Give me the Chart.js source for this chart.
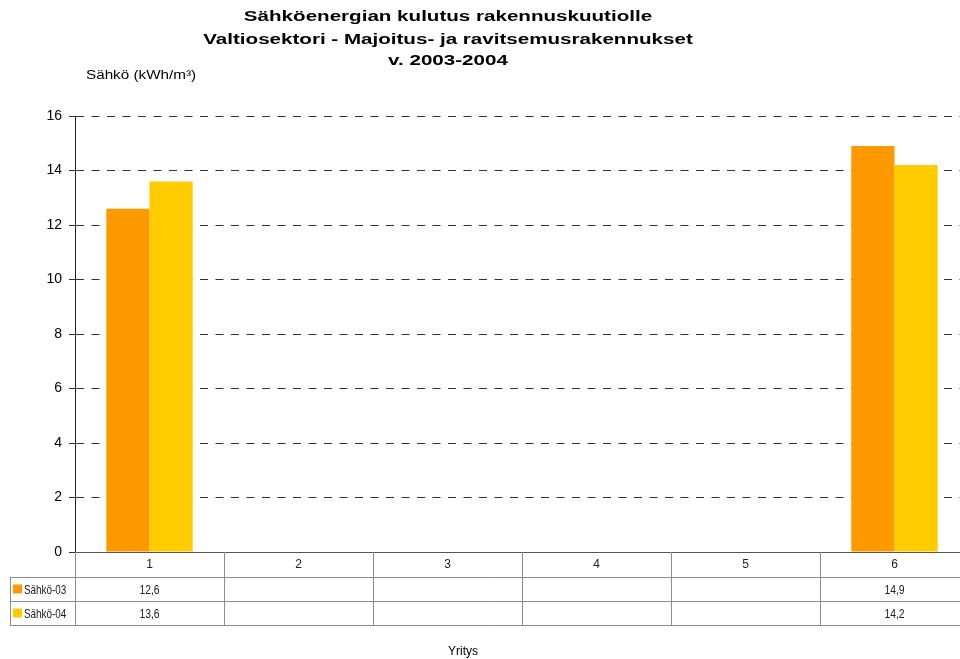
<!DOCTYPE html>
<html>
<head>
<meta charset="utf-8">
<script src="https://cdn.jsdelivr.net/npm/chart.js@4"></script>
<style>
  html, body { margin: 0; padding: 0; background: #fff; overflow: hidden; }
  #wrap { width: 975px; height: 659px; }
</style>
</head>
<body>
<div id="wrap"><canvas id="energyChart" width="975" height="659"></canvas></div>
<script>
// Chart data
const companies = ['1', '2', '3', '4', '5', '6'];
const electricity03 = [12.6, null, null, null, null, 14.9];
const electricity04 = [13.6, null, null, null, null, 14.2];
const seriesNames = ['Sähkö-03', 'Sähkö-04'];
const seriesColors = ['#FF9900', '#FFCC00'];
const titleLines = [
    'Sähköenergian kulutus rakennuskuutiolle',
    'Valtiosektori - Majoitus- ja ravitsemusrakennukset',
    'v. 2003-2004'
];
const yAxisTitle = 'Sähkö (kWh/m³)';
const xAxisTitle = 'Yritys';

const mainFont = '"Liberation Sans", Arial, sans-serif';

// draw text squeezed / stretched horizontally
function drawScaledText(ctx, text, x, y, sx) {
    ctx.save();
    ctx.translate(x, y);
    ctx.scale(sx, 1);
    ctx.fillText(text, 0, 0);
    ctx.restore();
}

/**
 * Draws titles and the data table under the plot
 */
const tablePlugin = {
    id: 'dataTable',
    afterDraw(chart) {
        const ctx = chart.ctx;
        const area = chart.chartArea;
        const xScale = chart.scales.x;
        const colW = (area.right - area.left) / companies.length;
        const rowTop = area.bottom;
        const rowH = [25, 24, 24];
        const r1 = rowTop + rowH[0];
        const r2 = r1 + rowH[1];
        const r3 = r2 + rowH[2];
        const legendLeft = 10;

        ctx.save();

        // main title
        ctx.fillStyle = '#000';
        ctx.textAlign = 'center';
        ctx.textBaseline = 'middle';
        ctx.font = 'bold 14px ' + mainFont;
        const titleY = [17, 40, 61];
        titleLines.forEach((line, i) => {
            drawScaledText(ctx, line, 448, titleY[i], 1.47);
        });

        // axis titles
        ctx.font = '12px ' + mainFont;
        ctx.textAlign = 'left';
        drawScaledText(ctx, yAxisTitle, 86, 76, 1.27);
        ctx.textAlign = 'center';
        ctx.fillText(xAxisTitle, 463, 652);

        // table grid
        ctx.strokeStyle = '#8c8c8c';
        ctx.lineWidth = 1;
        ctx.beginPath();
        [r1, r2, r3].forEach(y => {
            ctx.moveTo(legendLeft, y + 0.5);
            ctx.lineTo(area.right, y + 0.5);
        });
        ctx.moveTo(legendLeft + 0.5, r1);
        ctx.lineTo(legendLeft + 0.5, r3);
        for (let i = 0; i <= companies.length; i++) {
            const x = Math.round(area.left + i * colW) + 0.5;
            ctx.moveTo(x, rowTop);
            ctx.lineTo(x, r3);
        }
        ctx.stroke();

        // legend keys and values
        const series = [electricity03, electricity04];
        const rowMid = [(r1 + r2) / 2, (r2 + r3) / 2];
        ctx.font = '13px ' + mainFont;
        ctx.textBaseline = 'middle';
        series.forEach((values, s) => {
            const y = rowMid[s];
            ctx.fillStyle = seriesColors[s];
            ctx.fillRect(legendLeft + 3, y - 4.5, 9, 9);
            ctx.fillStyle = '#222';
            ctx.textAlign = 'left';
            drawScaledText(ctx, seriesNames[s], legendLeft + 14, y + 1, 0.76);
            ctx.textAlign = 'center';
            values.forEach((v, i) => {
                if (v === null) return;
                const x = xScale.getPixelForValue(i);
                drawScaledText(ctx, v.toFixed(1).replace('.', ','), x, y + 1, 0.8);
            });
        });

        ctx.restore();
    }
};

const chartCtx = document.getElementById('energyChart').getContext('2d');
const energyChart = new Chart(chartCtx, {
    type: 'bar',
    data: {
        labels: companies,
        datasets: [{
            label: seriesNames[0],
            data: electricity03,
            backgroundColor: seriesColors[0],
            borderWidth: 0
        }, {
            label: seriesNames[1],
            data: electricity04,
            backgroundColor: seriesColors[1],
            borderWidth: 0
        }]
    },
    options: {
        responsive: false,
        animation: false,
        layout: {
            padding: { top: 116, right: 6, left: 0, bottom: 0 }
        },
        datasets: {
            bar: {
                barPercentage: 1,
                categoryPercentage: 0.58
            }
        },
        plugins: {
            legend: { display: false },
            title: { display: false },
            tooltip: { enabled: false }
        },
        scales: {
            y: {
                min: 0,
                max: 16,
                afterFit: (scale) => { scale.width = 75; },
                ticks: {
                    stepSize: 2,
                    padding: 7,
                    color: '#000',
                    font: { family: mainFont, size: 14 }
                },
                grid: {
                    color: '#333',
                    tickColor: '#333',
                    tickLength: 6,
                    tickBorderDash: []
                },
                border: {
                    display: true,
                    color: '#222',
                    dash: [8, 7.5]
                }
            },
            x: {
                afterFit: (scale) => { scale.height = 107; },
                ticks: {
                    padding: 5,
                    color: '#222',
                    font: { family: mainFont, size: 12 }
                },
                grid: { display: false, drawTicks: false },
                border: { display: true, color: '#555' }
            }
        }
    },
    plugins: [tablePlugin]
});
</script>
</body>
</html>
